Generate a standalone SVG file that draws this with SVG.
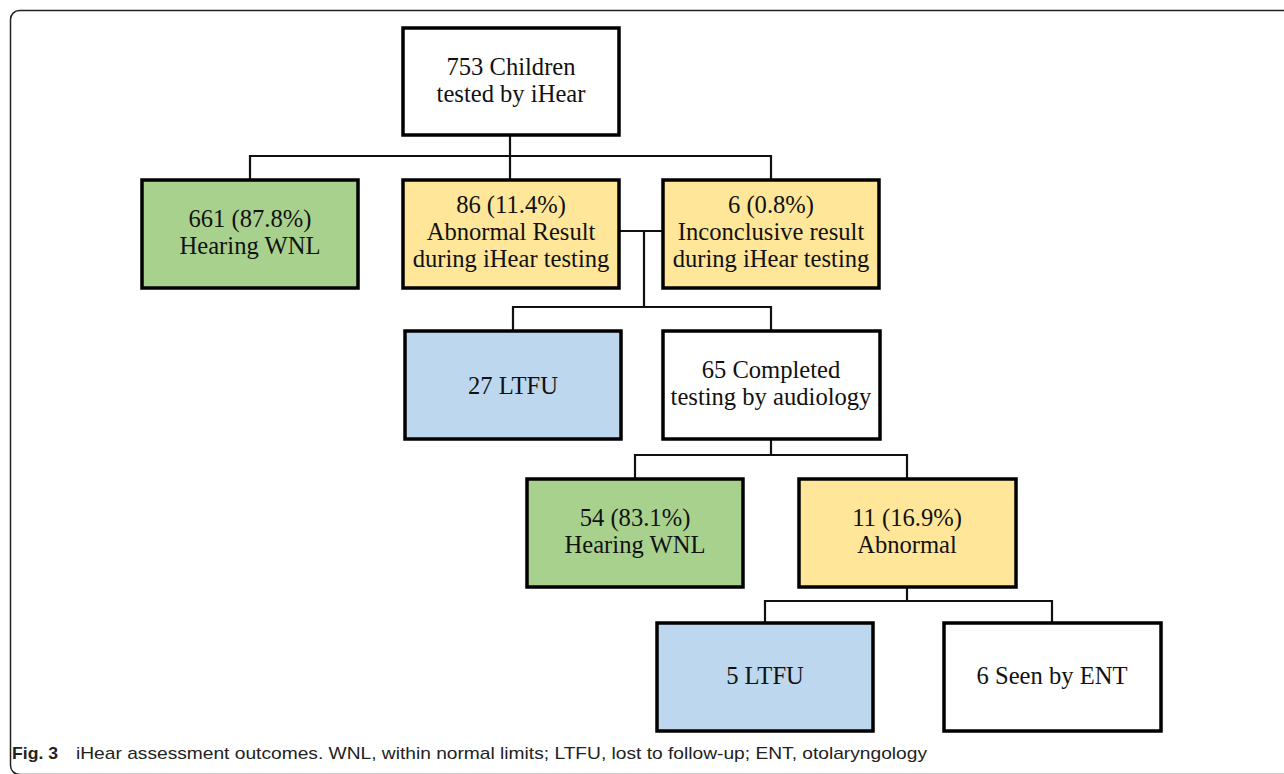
<svg xmlns="http://www.w3.org/2000/svg" width="1284" height="774" viewBox="0 0 1284 774">
<style>
.box{stroke:#000;stroke-width:3.5}
.w{fill:#fff}.g{fill:#A9D18E}.y{fill:#FFE699}.b{fill:#BDD7EE}
.t{font-family:"Liberation Serif","Times New Roman",serif;font-size:24.6px;fill:#111;text-anchor:middle}
.c{fill:none;stroke:#111;stroke-width:2.2}
.cap{font-family:"Liberation Sans",Arial,sans-serif;font-size:17px;fill:#222}
</style>
<rect x="10.5" y="10.5" width="1300" height="764" rx="9" fill="#fff" stroke="#222" stroke-width="1.5"/>
<g id="connectors">
<path class="c" d="M510 135V156M250 180V156H771V180M510 156V180"/>
<path class="c" d="M619 231H663M644 231V307M513 331V307H771V331"/>
<path class="c" d="M771 439V455M635 479V455H907V479"/>
<path class="c" d="M907 587V601M765 623V601H1052V623"/>
</g>
<g id="n753"><rect class="box w" x="403" y="28" width="216" height="107"/><text class="t" x="511" y="75">753 Children</text><text class="t" x="511" y="102.3">tested by iHear</text></g>
<g id="n661"><rect class="box g" x="142" y="180" width="216" height="108"/><text class="t" x="250" y="227">661 (87.8%)</text><text class="t" x="250" y="254.3">Hearing WNL</text></g>
<g id="n86"><rect class="box y" x="403" y="180" width="216" height="108"/><text class="t" x="511" y="212.5">86 (11.4%)</text><text class="t" x="511" y="239.8">Abnormal Result</text><text class="t" x="511" y="267.1">during iHear testing</text></g>
<g id="n6"><rect class="box y" x="663" y="180" width="216" height="108"/><text class="t" x="771" y="212.5">6 (0.8%)</text><text class="t" x="771" y="239.8">Inconclusive result</text><text class="t" x="771" y="267.1">during iHear testing</text></g>
<g id="n27"><rect class="box b" x="405" y="331" width="216" height="108"/><text class="t" x="513" y="394">27 LTFU</text></g>
<g id="n65"><rect class="box w" x="663" y="331" width="217" height="108"/><text class="t" x="771" y="378">65 Completed</text><text class="t" x="771" y="405.3">testing by audiology</text></g>
<g id="n54"><rect class="box g" x="527" y="479" width="216" height="108"/><text class="t" x="635" y="526">54 (83.1%)</text><text class="t" x="635" y="553.3">Hearing WNL</text></g>
<g id="n11"><rect class="box y" x="799" y="479" width="217" height="108"/><text class="t" x="907" y="526">11 (16.9%)</text><text class="t" x="907" y="553.3">Abnormal</text></g>
<g id="n5"><rect class="box b" x="657" y="623" width="216" height="108"/><text class="t" x="765" y="684">5 LTFU</text></g>
<g id="nENT"><rect class="box w" x="944" y="623" width="217" height="108"/><text class="t" x="1052" y="684">6 Seen by ENT</text></g>
<text class="cap" x="12" y="759"><tspan font-weight="bold" textLength="46" lengthAdjust="spacingAndGlyphs">Fig. 3</tspan></text>
<text class="cap" x="76" y="759" textLength="851" lengthAdjust="spacingAndGlyphs">iHear assessment outcomes. WNL, within normal limits; LTFU, lost to follow-up; ENT, otolaryngology</text>
</svg>
